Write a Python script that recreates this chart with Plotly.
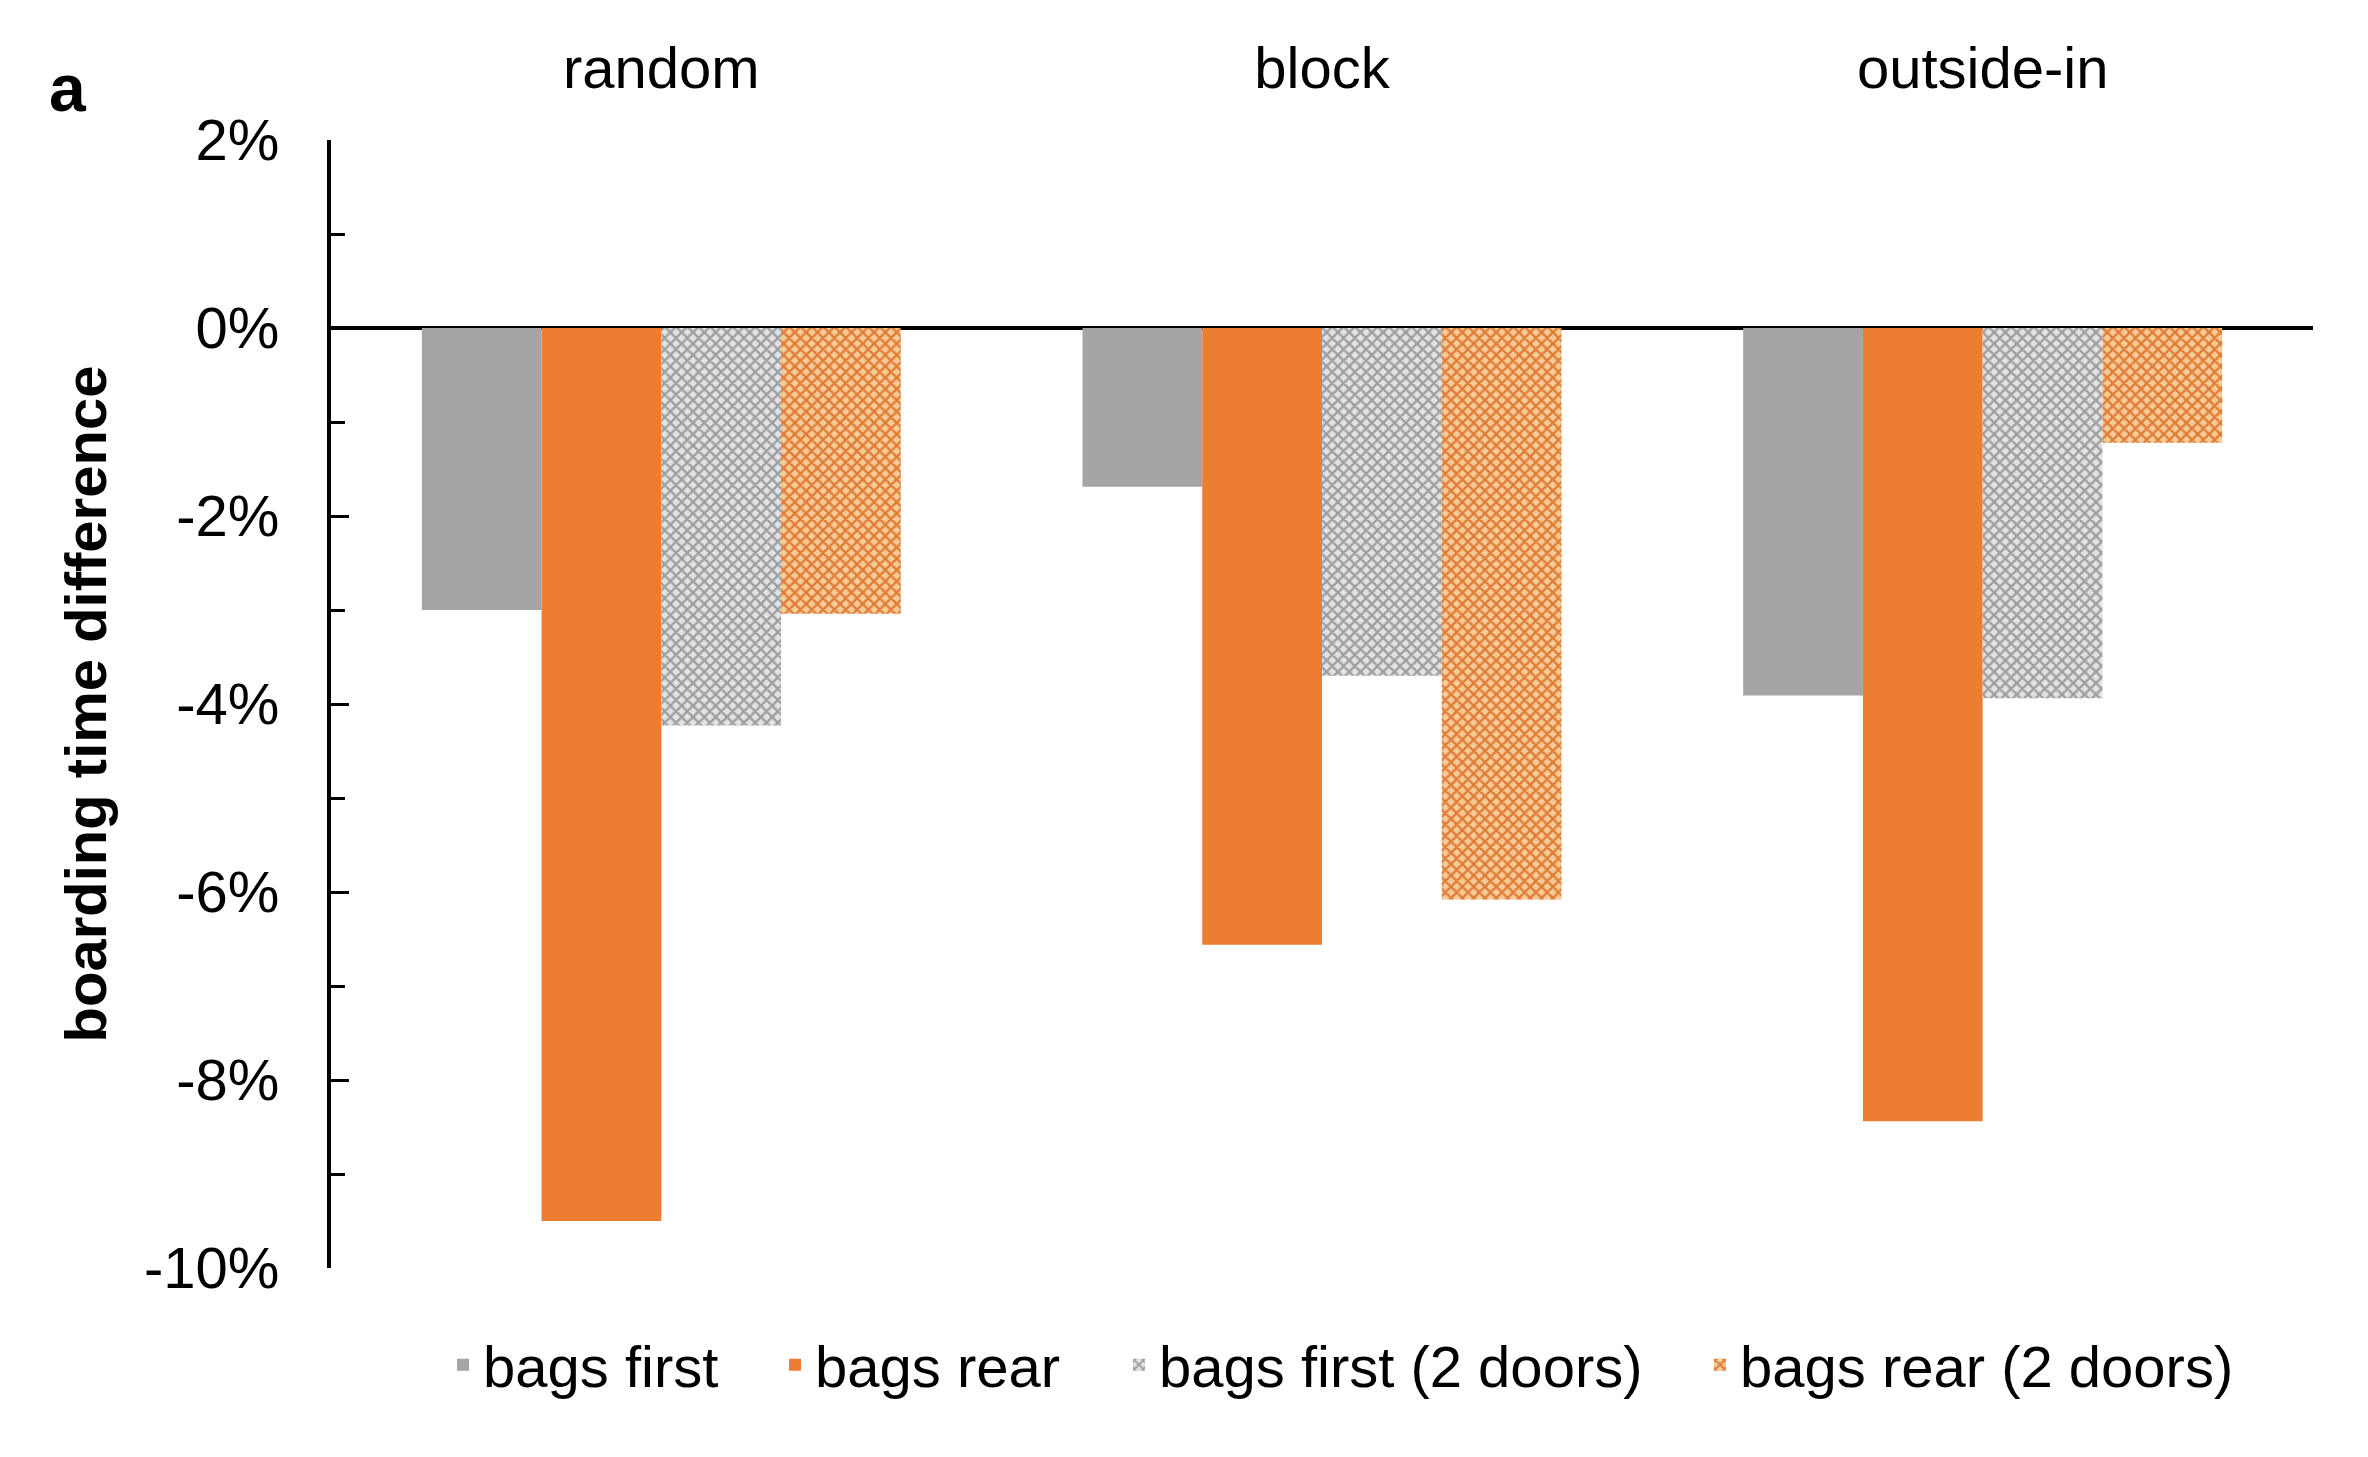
import plotly.graph_objects as go

categories = ["random", "block", "outside-in"]
series_names = ["bags first", "bags rear", "bags first (2 doors)", "bags rear (2 doors)"]
bags_first = [-3.0, -1.69, -3.91]
bags_rear = [-9.5, -6.56, -8.44]
bags_first_2doors = [-4.23, -3.70, -3.94]
bags_rear_2doors = [-3.04, -6.08, -1.22]
y_tickvals = [2, 0, -2, -4, -6, -8, -10]
y_ticktext = ["2%", "0%", "-2%", "-4%", "-6%", "-8%", "-10%"]

FONT = "Arial, Liberation Sans, sans-serif"
GRAY = "#A5A5A5"
ORANGE = "#ED7D31"

W, H = 2368, 1457
ML, MR, MT, MB = 323, 63, 132, 197
PW, PH = W - ML - MR, H - MT - MB

fig = go.Figure()
fig.add_trace(go.Bar(name=series_names[0], x=categories, y=bags_first, legend="legend",
                     marker=dict(color=GRAY, line=dict(width=0))))
fig.add_trace(go.Bar(name=series_names[1], x=categories, y=bags_rear, legend="legend2",
                     marker=dict(color=ORANGE, line=dict(width=0))))
fig.add_trace(go.Bar(name=series_names[2], x=categories, y=bags_first_2doors, legend="legend3",
                     marker=dict(color="#E2E2E2", line=dict(width=0),
                                 pattern=dict(shape="x", fgcolor="#9E9E9E", bgcolor="#E2E2E2",
                                              size=8, solidity=0.5, fgopacity=1))))
fig.add_trace(go.Bar(name=series_names[3], x=categories, y=bags_rear_2doors, legend="legend4",
                     marker=dict(color="#F6CB98", line=dict(width=0),
                                 pattern=dict(shape="x", fgcolor="#E07C36", bgcolor="#F6CB98",
                                              size=8, solidity=0.5, fgopacity=1))))

# legend text start positions (pixels)
legend_text_x = [480, 812, 1156, 1737]
legend_common = dict(orientation="h", xref="container", yref="container",
                     y=1 - 1357 / H, yanchor="middle", xanchor="left",
                     font=dict(family=FONT, size=58, color="black"),
                     itemwidth=30, bgcolor="rgba(0,0,0,0)", borderwidth=0)
legends = {}
for i, tx in enumerate(legend_text_x):
    key = "legend" if i == 0 else f"legend{i+1}"
    legends[key] = dict(legend_common, x=(tx - 45) / W)

fig.update_layout(
    width=W, height=H,
    paper_bgcolor="white", plot_bgcolor="white",
    margin=dict(l=ML, r=MR, t=MT, b=MB, autoexpand=False),
    barmode="group", bargap=0.275, bargroupgap=0,
    font=dict(family=FONT, size=58, color="black"),
    showlegend=True,
    xaxis=dict(side="top", showline=False, ticks="", showgrid=False, zeroline=False,
               tickfont=dict(family=FONT, size=58, color="black"),
               ticklabelstandoff=39, range=[-0.5, 2.5], automargin=False),
    yaxis=dict(range=[-10, 2], tickvals=y_tickvals, ticktext=y_ticktext,
               showline=True, linecolor="black", linewidth=4,
               ticks="inside", ticklen=18, tickwidth=3, tickcolor="black",
               minor=dict(dtick=1, ticks="inside", ticklen=14, tickwidth=3, tickcolor="black"),
               showgrid=False, zeroline=True, zerolinecolor="black", zerolinewidth=4,
               tickfont=dict(family=FONT, size=58, color="black"),
               ticklabelstandoff=36, automargin=False,
               title=dict(text="<b>boarding time difference</b>", standoff=20,
                          font=dict(family=FONT, size=58, color="black"))),
    annotations=[dict(text="<b>a</b>", x=(60 - ML) / PW, y=(H - MB - 80) / PH,
                      xref="paper", yref="paper", xanchor="center", yanchor="middle",
                      showarrow=False, font=dict(family=FONT, size=66, color="black"))],
    **legends,
)

fig.write_html("out.html")
